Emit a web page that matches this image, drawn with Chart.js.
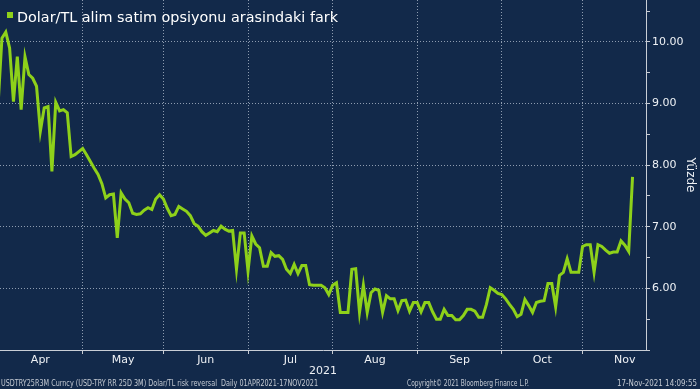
<!DOCTYPE html>
<html>
<head>
<meta charset="utf-8">
<script src="https://cdn.jsdelivr.net/npm/chart.js@4.4.1/dist/chart.umd.min.js"></script>
<style>
  html, body { margin: 0; padding: 0; background: #12294a; }
  #wrap { position: relative; width: 700px; height: 389px; overflow: hidden; background: #12294a; font-family: "DejaVu Sans", sans-serif; }
  #c { position: absolute; left: 0; top: 0; }
  .txt { position: absolute; white-space: nowrap; line-height: 1; transform-origin: 0 0; }
  #legend { left: 17px; top: 10px; font-size: 14px; color: #ffffff; }
  #legendBox { position: absolute; left: 7px; top: 12px; width: 6px; height: 6px; background: #8ed11a; }
  .foot { font-family: "DejaVu Sans Condensed", "DejaVu Sans", sans-serif; font-size: 8px; color: #c3c9d2; top: 380px; }
</style>
</head>
<body>
<div id="wrap">
  <canvas id="c" width="700" height="389"></canvas>
  <div id="legendBox"></div>
  <div class="txt" id="legend" data-w="321">Dolar/TL alim satim opsiyonu arasindaki fark</div>
  <div class="txt foot" style="left:1px" data-w="317">USDTRY25R3M Curncy (USD-TRY RR 25D 3M) Dolar/TL risk reversal&nbsp;&nbsp;Daily 01APR2021-17NOV2021</div>
  <div class="txt foot" style="left:407px" data-w="122">Copyright© 2021 Bloomberg Finance L.P.</div>
  <div class="txt foot" style="left:617px" data-w="80">17-Nov-2021 14:09:55</div>
</div>
<script>
// months on the axis and their trading days
const monthNames = ["Apr", "May", "Jun", "Jul", "Aug", "Sep", "Oct", "Nov"];
const tradingDays = [22, 21, 22, 22, 22, 22, 21, 22];
const yearLabel = "2021";
const yLabels = [6, 7, 8, 9, 10];

// USD-TRY 25D 3M risk reversal, daily
const values = [
  8.98, 10.06, 10.16, 9.90, 9.03, 9.76, 8.90, 9.76, 9.47, 9.41,
  9.28, 8.55, 8.93, 8.95, 7.90, 9.02, 8.88, 8.90, 8.85, 8.14,
  8.17, 8.22, 8.27, 8.17, 8.06, 7.95, 7.85, 7.70, 7.47, 7.52,
  7.53, 6.82, 7.55, 7.45, 7.39, 7.22, 7.20, 7.21, 7.27, 7.31,
  7.28, 7.45, 7.52, 7.45, 7.30, 7.18, 7.20, 7.33, 7.29, 7.25,
  7.18, 7.05, 7.01, 6.92, 6.86, 6.90, 6.94, 6.92, 7.01, 6.96,
  6.93, 6.94, 6.31, 6.90, 6.90, 6.28, 6.85, 6.72, 6.66, 6.36,
  6.36, 6.58, 6.52, 6.53, 6.47, 6.31, 6.24, 6.39, 6.24, 6.37,
  6.37, 6.06, 6.05, 6.05, 6.05, 6.01, 5.90, 6.05, 6.09, 5.61,
  5.61, 5.61, 6.31, 6.32, 5.61, 6.05, 5.61, 5.93, 5.99, 5.97,
  5.61, 5.88, 5.83, 5.83, 5.64, 5.80, 5.81, 5.63, 5.77, 5.77,
  5.62, 5.77, 5.77, 5.62, 5.50, 5.50, 5.66, 5.56, 5.56, 5.49,
  5.49, 5.56, 5.66, 5.66, 5.63, 5.53, 5.53, 5.74, 6.01, 5.97,
  5.92, 5.90, 5.83, 5.74, 5.66, 5.54, 5.58, 5.82, 5.72, 5.61,
  5.77, 5.79, 5.80, 6.08, 6.08, 5.70, 6.21, 6.26, 6.48, 6.26,
  6.26, 6.26, 6.68, 6.71, 6.71, 6.26, 6.71, 6.68, 6.62, 6.57,
  6.59, 6.59, 6.77, 6.70, 6.60, 7.81
];

const lineColor = "#8ed11a";
const axisColor = "#c9ced6";
const gridColor = "rgba(195, 205, 220, 0.7)";
const textColor = "#eef1f5";

// month start / middle positions in trading-day units
const monthStarts = [];
const monthMids = [];
let acc = 0;
tradingDays.forEach((d) => {
  monthStarts.push(acc);
  monthMids.push(acc + d / 2);
  acc += d;
});

const xMin = 0.5;
const xMax = 168.5;

const noPad = (s) => {
  s.paddingTop = 0; s.paddingBottom = 0; s.paddingLeft = 0; s.paddingRight = 0;
};

new Chart(document.getElementById("c").getContext("2d"), {
  type: "line",
  data: {
    datasets: [{
      data: values.map((v, i) => ({ x: i, y: v })),
      borderColor: lineColor,
      borderWidth: 3,
      pointRadius: 0,
      tension: 0,
      fill: false,
      xAxisID: "x",
      yAxisID: "y",
    }],
  },
  options: {
    responsive: false,
    animation: false,
    devicePixelRatio: 1,
    layout: { padding: { left: 0, right: 0, top: 0, bottom: 8 } },
    plugins: { legend: { display: false }, tooltip: { enabled: false } },
    scales: {
      xg: {
        type: "linear",
        position: "bottom",
        weight: 0,
        min: xMin,
        max: xMax,
        afterBuildTicks: (s) => { s.ticks = monthStarts.slice(1).map((v) => ({ value: v })); },
        ticks: { display: false },
        grid: { color: gridColor, lineWidth: 1, tickLength: 4, tickColor: axisColor },
        border: { display: true, color: axisColor, width: 1, dash: [1, 2] },
        afterFit: (s) => { s.height = 4; noPad(s); },
      },
      x: {
        type: "linear",
        position: "bottom",
        weight: 1,
        min: xMin,
        max: xMax,
        afterBuildTicks: (s) => { s.ticks = monthMids.map((v) => ({ value: v })); },
        ticks: {
          autoSkip: false,
          maxRotation: 0,
          padding: 0,
          color: textColor,
          font: { family: "DejaVu Sans", size: 11 },
          callback: (v, i) => monthNames[i],
        },
        grid: { display: false, drawTicks: false },
        border: { display: false },
        title: {
          display: true,
          text: yearLabel,
          color: textColor,
          font: { family: "DejaVu Sans", size: 11 },
          padding: { top: 0, bottom: 3 },
        },
        afterFit: (s) => { s.height = 27; noPad(s); },
      },
      y: {
        type: "linear",
        position: "right",
        min: 5,
        max: 10.68,
        ticks: {
          stepSize: 0.5,
          includeBounds: false,
          padding: 2,
          color: textColor,
          font: { family: "DejaVu Sans", size: 11 },
          callback: (v) => (yLabels.includes(v) ? v.toFixed(2) : ""),
        },
        grid: {
          color: (ctx) => (ctx.tick && yLabels.includes(ctx.tick.value) ? gridColor : "rgba(0,0,0,0)"),
          lineWidth: 1,
          tickLength: 4,
          tickColor: axisColor,
        },
        border: { display: true, color: axisColor, width: 1, dash: [1, 2] },
        title: {
          display: true,
          text: "Yüzde",
          color: textColor,
          font: { family: "DejaVu Sans", size: 12 },
          padding: { top: 3, bottom: 0 },
        },
        afterFit: (s) => { s.width = 54; noPad(s); },
      },
    },
  },
});

// squeeze overlay texts to the widths seen in the reference
document.querySelectorAll(".txt[data-w]").forEach((el) => {
  const w = el.getBoundingClientRect().width;
  const target = parseFloat(el.dataset.w);
  if (w > 0) el.style.transform = "scaleX(" + (target / w) + ")";
});
</script>
</body>
</html>
